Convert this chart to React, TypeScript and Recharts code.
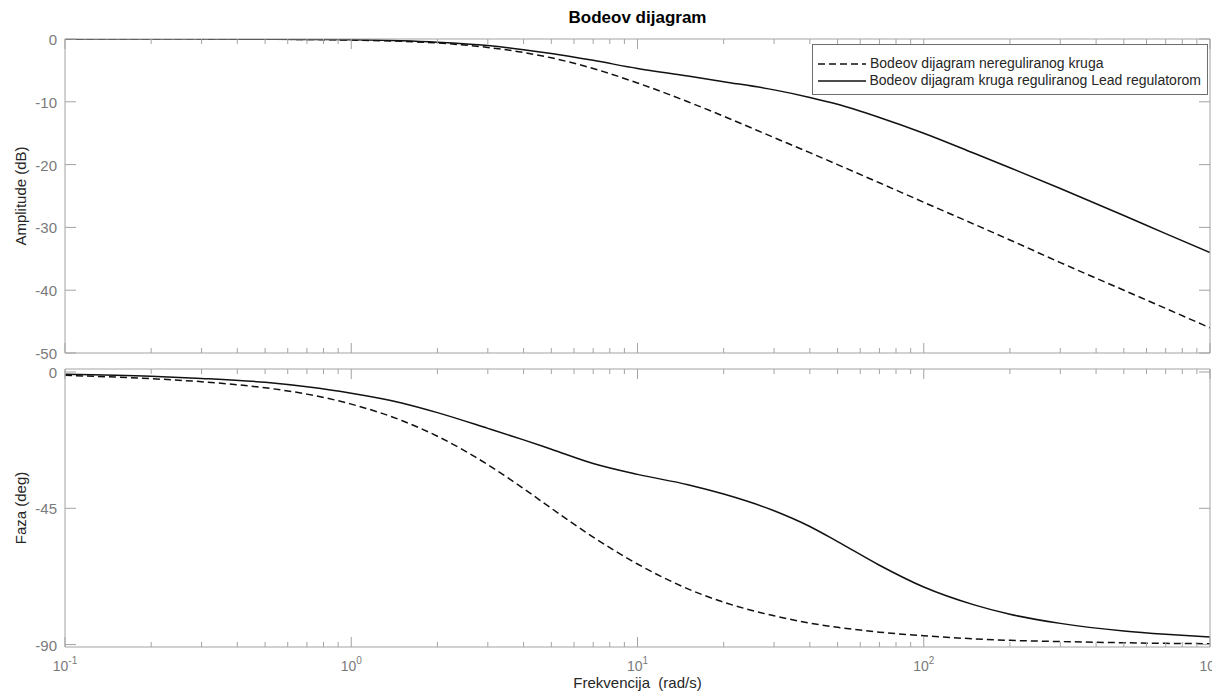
import React from "react";
import { LineChart, Line, XAxis, YAxis, Legend } from "recharts";

// frequency grid (rad/s)
const freq = [0.1, 0.2, 0.3, 0.5, 0.7, 1, 1.5, 2, 3, 4, 5, 7, 10, 15, 20, 30, 40, 50, 70, 100, 150, 200, 300, 500, 700, 1000];

// amplitude (dB)
const ampOpen = [0, -0.01, -0.02, -0.04, -0.08, -0.17, -0.37, -0.64, -1.34, -2.15, -3.0, -4.7, -7.0, -10.0, -12.3, -15.7, -18.1, -20.0, -22.9, -26.0, -29.5, -32.0, -35.6, -40.0, -42.9, -46.0];
const ampLead = [0, -0.01, -0.01, -0.03, -0.06, -0.13, -0.29, -0.52, -1.05, -1.7, -2.3, -3.4, -4.7, -5.9, -6.8, -8.1, -9.3, -10.4, -12.5, -15.0, -18.2, -20.5, -23.8, -28.1, -31.0, -34.0];

// phase (deg)
const phaseOpen = [-1.1, -2.2, -3.2, -5.2, -7.3, -10.6, -16.0, -21.2, -30.6, -38.5, -45.0, -54.5, -63.4, -71.6, -76.0, -80.5, -82.9, -84.3, -85.9, -87.1, -88.1, -88.6, -89.0, -89.4, -89.6, -89.7];
const phaseLead = [-0.7, -1.4, -2.1, -3.4, -4.9, -7.0, -10.2, -13.4, -18.6, -22.4, -25.5, -30.2, -33.8, -37.2, -40.3, -45.8, -51.0, -56.0, -63.8, -71.0, -76.9, -80.0, -83.0, -85.5, -86.6, -87.5];

const seriesNames = ["Bodeov dijagram nereguliranog kruga", "Bodeov dijagram kruga reguliranog Lead regulatorom"];
const seriesDash = ["7 4", undefined];

const decades = [0.1, 1, 10, 100, 1000];
const ampTicks = [0, -10, -20, -30, -40, -50];
const phaseTicks = [0, -45, -90];

const xTicks = decades
  .slice(0, -1)
  .flatMap((d) => [1, 2, 3, 4, 5, 6, 7, 8, 9].map((k) => +(k * d).toPrecision(3)))
  .concat([decades[decades.length - 1]]);

const ampData = freq.map((w, i) => ({ w, open: ampOpen[i], lead: ampLead[i] }));
const phaseData = freq.map((w, i) => ({ w, open: phaseOpen[i], lead: phaseLead[i] }));

const AXIS = "#a3a3a3";
const TICK_TEXT = "#7a7a7a";
const LABEL = "#262626";
const FONT = "'Liberation Sans', Arial, Helvetica, sans-serif";
const LINE = "#111";

const isMajor = (v: number) => {
  const l = Math.log10(v);
  return Math.abs(l - Math.round(l)) < 1e-6;
};

const XTick = (props: any) => {
  const { x, y, payload, side, showLabel } = props;
  const v = payload.value;
  const major = isMajor(v);
  const len = major ? 10 : 5;
  const dir = side === "top" ? 1 : -1;
  const exp = Math.round(Math.log10(v));
  return (
    <g>
      <line x1={x} y1={y} x2={x} y2={y + dir * len} stroke={AXIS} strokeWidth={1} />
      {showLabel && major && (
        <text x={x} y={y + 24} textAnchor="middle" fill={TICK_TEXT} fontSize={14} fontFamily={FONT}>
          10
          <tspan dy={-7} fontSize={10}>
            {exp}
          </tspan>
        </text>
      )}
    </g>
  );
};

const YTick = (props: any) => {
  const { x, y, payload, side } = props;
  const dir = side === "right" ? -1 : 1;
  return (
    <g>
      <line x1={x} y1={y} x2={x + dir * 11} y2={y} stroke={AXIS} strokeWidth={1} />
      {side !== "right" && (
        <text x={x - 8} y={y + 6} textAnchor="end" fill={TICK_TEXT} fontSize={15} fontFamily={FONT}>
          {payload.value}
        </text>
      )}
    </g>
  );
};

const LegendBox = () => (
  <div
    style={{
      border: "1px solid #6e6e6e",
      background: "#fff",
      padding: "10px 6px 5px 4px",
      fontFamily: FONT,
      fontSize: 14,
      color: LABEL,
      lineHeight: "17px",
      boxSizing: "border-box",
    }}
  >
    {seriesNames.map((name, i) => (
      <div key={name} style={{ display: "flex", alignItems: "center", whiteSpace: "nowrap" }}>
        <svg width={50} height={17} style={{ marginRight: 3 }}>
          <line x1={1} y1={9} x2={49} y2={9} stroke={LINE} strokeWidth={1.5} strokeDasharray={seriesDash[i]} />
        </svg>
        <span>{name}</span>
      </div>
    ))}
  </div>
);

const Panel = ({ data, domain, ticks, height, margin, showXLabels, legend }: any) => (
  <LineChart width={1220} height={height} data={data} margin={margin}>
    <XAxis
      xAxisId="b"
      dataKey="w"
      type="number"
      scale="log"
      domain={[0.1, 1000]}
      ticks={xTicks}
      interval={0}
      height={1}
      tickSize={0}
      tickMargin={0}
      tickLine={false}
      axisLine={{ stroke: AXIS }}
      tick={(p: any) => <XTick {...p} side="bottom" showLabel={showXLabels} />}
      allowDataOverflow
    />
    <XAxis
      xAxisId="t"
      orientation="top"
      dataKey="w"
      type="number"
      scale="log"
      domain={[0.1, 1000]}
      ticks={xTicks}
      interval={0}
      height={1}
      tickSize={0}
      tickMargin={0}
      tickLine={false}
      axisLine={{ stroke: AXIS }}
      tick={(p: any) => <XTick {...p} side="top" />}
      allowDataOverflow
    />
    <YAxis
      yAxisId="l"
      type="number"
      domain={domain}
      ticks={ticks}
      interval={0}
      width={1}
      tickSize={0}
      tickMargin={0}
      tickLine={false}
      axisLine={{ stroke: AXIS }}
      tick={(p: any) => <YTick {...p} side="left" />}
      allowDataOverflow
    />
    <YAxis
      yAxisId="r"
      orientation="right"
      type="number"
      domain={domain}
      ticks={ticks}
      interval={0}
      width={1}
      tickSize={0}
      tickMargin={0}
      tickLine={false}
      axisLine={{ stroke: AXIS }}
      tick={(p: any) => <YTick {...p} side="right" />}
      allowDataOverflow
    />
    {legend && (
      <Legend
        layout="horizontal"
        verticalAlign="middle"
        align="center"
        wrapperStyle={{ top: 44, left: 812, width: 396, height: 48 }}
        content={<LegendBox />}
      />
    )}
    <Line
      xAxisId="b"
      yAxisId="l"
      dataKey="open"
      name={seriesNames[0]}
      type="monotone"
      stroke={LINE}
      strokeWidth={1.5}
      strokeDasharray={seriesDash[0]}
      dot={false}
      isAnimationActive={false}
    />
    <Line
      xAxisId="b"
      yAxisId="l"
      dataKey="lead"
      name={seriesNames[1]}
      type="monotone"
      stroke={LINE}
      strokeWidth={1.5}
      dot={false}
      isAnimationActive={false}
    />
  </LineChart>
);

const textStyle: React.CSSProperties = {
  position: "absolute",
  fontFamily: FONT,
  color: LABEL,
  whiteSpace: "nowrap",
};

export default function App() {
  return (
    <div style={{ position: "relative", width: 1220, height: 699, margin: -8, background: "#fff", overflow: "hidden" }}>
      <Panel
        data={ampData}
        domain={[-50, 0]}
        ticks={ampTicks}
        height={362}
        margin={{ top: 38, right: 9, bottom: 8, left: 64 }}
        showXLabels={false}
        legend
      />
      <Panel
        data={phaseData}
        domain={[-90.8, 1]}
        ticks={phaseTicks}
        height={337}
        margin={{ top: 6, right: 9, bottom: 51, left: 64 }}
        showXLabels
      />
      <div style={{ ...textStyle, left: 0, width: 1275, top: 8, textAlign: "center", fontSize: 17, fontWeight: "bold", color: "#000" }}>
        Bodeov dijagram
      </div>
      <div style={{ ...textStyle, left: 0, width: 1275, top: 675, textAlign: "center", fontSize: 15, lineHeight: "16px" }}>
        Frekvencija&nbsp;&nbsp;(rad/s)
      </div>
      <div
        style={{
          ...textStyle,
          left: 20,
          top: 196,
          fontSize: 15,
          transform: "translate(-50%, -50%) rotate(-90deg)",
        }}
      >
        Amplitude (dB)
      </div>
      <div
        style={{
          ...textStyle,
          left: 20,
          top: 508,
          fontSize: 15,
          transform: "translate(-50%, -50%) rotate(-90deg)",
        }}
      >
        Faza (deg)
      </div>
    </div>
  );
}
